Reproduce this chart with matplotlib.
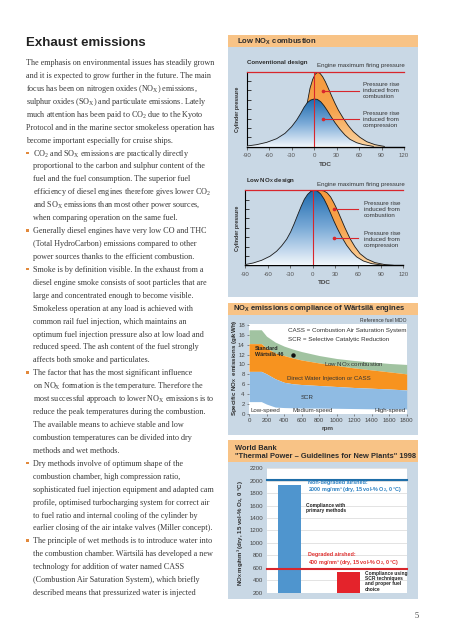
import numpy as np
import matplotlib
matplotlib.use('Agg')
import matplotlib.pyplot as plt
from matplotlib.patches import Rectangle
from matplotlib.colors import LinearSegmentedColormap

W, H = 452, 640
plt.rcParams['font.family'] = ['Liberation Sans', 'DejaVu Sans']
plt.rcParams['axes.unicode_minus'] = False

# ---------------- page text ----------------
title = 'Exhaust emissions'
body_lines = [
    'The emphasis on environmental issues has steadily grown',
    'and it is expected to grow further in the future. The main',
    r'focus has been on nitrogen oxides (NO$_\mathregular{X}$) emissions,',
    r'sulphur oxides (SO$_\mathregular{X}$) and particulate emissions. Lately',
    r'much attention has been paid to CO$_\mathregular{2}$ due to the Kyoto',
    'Protocol and in the marine sector smokeless operation has',
    'become important especially for cruise ships.',
    r'CO$_\mathregular{2}$ and SO$_\mathregular{X}$ emissions are practically directly',
    'proportional to the carbon and sulphur content of the',
    'fuel and the fuel consumption. The superior fuel',
    r'efficiency of diesel engines therefore gives lower CO$_\mathregular{2}$',
    r'and SO$_\mathregular{X}$ emissions than most other power sources,',
    'when comparing operation on the same fuel.',
    'Generally diesel engines have very low CO and THC',
    '(Total HydroCarbon) emissions compared to other',
    'power sources thanks to the efficient combustion.',
    'Smoke is by definition visible. In the exhaust from a',
    'diesel engine smoke consists of soot particles that are',
    'large and concentrated enough to become visible.',
    'Smokeless operation at any load is achieved with',
    'common rail fuel injection, which maintains an',
    'optimum fuel injection pressure also at low load and',
    'reduced speed. The ash content of the fuel strongly',
    'affects both smoke and particulates.',
    'The factor that has the most significant influence',
    r'on NO$_\mathregular{X}$ formation is the temperature. Therefore the',
    r'most successful approach to lower NO$_\mathregular{X}$ emissions is to',
    'reduce the peak temperatures during the combustion.',
    'The available means to achieve stable and low',
    'combustion temperatures can be divided into dry',
    'methods and wet methods.',
    'Dry methods involve of optimum shape of the',
    'combustion chamber, high compression ratio,',
    'sophisticated fuel injection equipment and adapted cam',
    'profile, optimised turbocharging system for correct air',
    'to fuel ratio and internal cooling of the cylinder by',
    'earlier closing of the air intake valves (Miller concept).',
    'The principle of wet methods is to introduce water into',
    'the combustion chamber. Wärtsilä has developed a new',
    'technology for addition of water named CASS',
    '(Combustion Air Saturation System), which briefly',
    'described means that pressurized water is injected',
]
bullet_rows = [7, 13, 16, 24, 31, 37]

# ---------------- cylinder pressure curves (crank angle deg, % of max firing pressure) ----------------
conv_comp_angle = [-90, -76.7, -63.3, -50, -38.9, -30, -23.3, -17.9, -13.5, -9.1, -4.6, -0.1,
                   4.3, 8.8, 13.2, 17.7, 22.1, 27.9, 34.6, 41.2, 47.9, 56.8, 65.7, 79.1]
conv_comp_p = [0.9, 2.7, 5.8, 10.7, 17.8, 26.7, 35.6, 44.4, 52.4, 58.7, 62.2, 63.6,
               63.1, 60, 54.7, 48, 40.9, 32, 23.1, 15.6, 9.8, 5.3, 2.7, 0.4]
conv_fire_angle = [-9.1, -5.5, -1.9, 1.6, 4.8, 7.9, 11.4, 15, 19, 23.4, 27.9, 32.3, 39,
                   45.7, 52.4, 61.3, 70.2, 81.3, 93.8]
conv_fire_p = [58.7, 77.8, 89.8, 96.9, 99.1, 97.8, 93.3, 86.7, 77.8, 67.6, 57.8, 48.9, 37.8,
               28, 20, 12.4, 6.7, 2.7, 0.4]

lown_comp_angle = [-90, -79, -67.9, -56.8, -48, -41.4, -34.7, -29.4, -24.6, -20.2, -15.7,
                   -11.3, -6.9, -2.5, 1.5, 5.9, 10.4, 14.8, 19.2, 23.6, 28, 32.5, 38.2,
                   44.8, 51.5, 58.1, 66.9, 78, 91.3]
lown_comp_p = [0.9, 3.1, 6.7, 12.1, 18.8, 25.9, 34.8, 44.6, 55.8, 67, 78.1, 87.9, 94.6,
               98.7, 100, 99.1, 95.1, 88.4, 79.5, 69.2, 58.9, 49.1, 37.9, 26.8, 17.9,
               11.2, 5.8, 2.2, 0.4]
lown_fire_angle = [1.5, 9.5, 14.8, 19.2, 23.6, 28, 32.5, 36.9, 42.6, 49.3, 55.9, 62.5,
                   71.4, 82.4, 95.7, 106.7]
lown_fire_p = [100, 100, 99.1, 96.4, 91.1, 83, 73.7, 63.4, 50, 35.7, 24.6, 15.6, 8.5,
               3.6, 0.9, 0]

angle_ticks = [-90, -60, -30, 0, 30, 60, 90, 120]
max_firing = 100
tdc = 0

# ---------------- NOx compliance bands (g/kWh vs rpm) ----------------
rpm = [0, 140, 200, 300, 400, 500, 600, 800, 1000, 1200, 1400, 1600, 1800]
low_nox_top = [17.0, 17.0, 15.7, 14.5, 13.7, 13.1, 12.6, 11.8, 11.2, 10.8, 10.5, 10.2, 10.0]
dwi_top = [14.2, 14.2, 13.3, 12.3, 11.8, 11.3, 10.9, 10.3, 9.8, 9.3, 8.9, 8.5, 8.1]
scr_top = [8.6, 8.6, 8.1, 7.1, 6.4, 6.1, 5.95, 5.75, 5.55, 5.35, 5.2, 5.05, 4.85]
scr_bottom = [2.5, 2.5, 2.0, 1.4, 1.3, 1.25, 1.2, 1.2, 1.15, 1.1, 1.05, 1.0, 1.0]
w46_rpm, w46_nox = 500, 12.0

# ---------------- World Bank bars ----------------
bar_names = ['Primary methods', 'SCR']
bar_values = [1925, 540]
non_degraded_limit = 2010
degraded_limit = 580

RED = '#d8262c'
PANEL = '#c9d8e5'
HEAD = '#f8c386'
TXT = '#333333'

fig = plt.figure(figsize=(W / 100, H / 100), dpi=100)
fig.patch.set_facecolor('white')


def box(x0, y0, x1, y1):
    return [x0 / W, 1 - y1 / H, (x1 - x0) / W, (y1 - y0) / H]


def ftext(x, y, s, **kw):
    return fig.text(x / W, 1 - y / H, s, **kw)


def rect(x0, y0, x1, y1, color):
    fig.patches.append(Rectangle((x0 / W, 1 - y1 / H), (x1 - x0) / W, (y1 - y0) / H,
                                 transform=fig.transFigure, facecolor=color,
                                 edgecolor='none', zorder=-5))


# page text
ftext(26, 43, title, fontsize=9.5, fontweight='bold', color='#222222', va='center')
for i, line in enumerate(body_lines):
    base = 65 + 12.93 * i
    indent = 26 if i < 7 else 33
    ftext(indent, base, line, family='Liberation Serif', fontsize=5.9,
          color='#3a3a3a', va='baseline')
    if i in bullet_rows:
        rect(26.4, base - 4.0, 29.0, base - 1.4, '#e2893c')
ftext(415, 616, '5', family='Liberation Serif', fontsize=6, color='#444444', va='center')

# panels
rect(228, 35, 418, 47, HEAD)
rect(228, 47, 418, 297, PANEL)
rect(228, 302.7, 418, 315, HEAD)
rect(228, 315, 418, 435, PANEL)
rect(228, 440, 418, 462, HEAD)
rect(228, 462, 418, 599, PANEL)

ftext(236.7, 41.5, r'Low NO$_\mathregular{X}$ combustion', fontsize=5.5,
      fontweight='bold', color='#2b2b2b', va='center')
ftext(233.3, 309, r'NO$_\mathregular{X}$ emissions compliance of Wärtsilä engines',
      fontsize=5.5, fontweight='bold', color='#2b2b2b', va='center')
ftext(234.7, 448.3, 'World Bank', fontsize=5.4, fontweight='bold', color='#2b2b2b', va='center')
ftext(234.7, 456.9, '"Thermal Power – Guidelines for New Plants" 1998', fontsize=5.4,
      fontweight='bold', color='#2b2b2b', va='center')

blue_cmap = LinearSegmentedColormap.from_list('bl', ['#f1f6fb', '#7aaad7', '#1d6aae'])
orange_cmap = LinearSegmentedColormap.from_list('or', ['#fbd4a2', '#f7a34c', '#f59a3e'])


def gradient_fill(ax, x, y, cmap, z):
    poly = ax.fill_between(x, y, 0, facecolor='none', edgecolor='none')
    grad = np.linspace(0, 1, 256).reshape(-1, 1)
    im = ax.imshow(grad, extent=(min(x), max(x), 0, max(y)), origin='lower',
                   cmap=cmap, aspect='auto', zorder=z)
    im.set_clip_path(poly.get_paths()[0], transform=ax.transData)
    ax.plot(x, y, color='#1a1a1a', lw=0.6, zorder=z + 0.5)


def pressure_chart(bx, label, comp_a, comp_p, fire_a, fire_p, notes, note_x, txt_x,
                   label_y, label_x, eng_y, ylab_y):
    ax = fig.add_axes(box(*bx))
    ax.patch.set_alpha(0)
    gradient_fill(ax, fire_a, fire_p, orange_cmap, 2)
    gradient_fill(ax, comp_a, comp_p, blue_cmap, 3)
    ax.plot([tdc, tdc], [0, max_firing], color=RED, lw=0.8, zorder=5)
    ax.axhline(max_firing, color=RED, lw=0.9, zorder=5, clip_on=False)
    for (ny, ty, txt) in notes:
        ax.plot([note_x[0], note_x[1]], [ny, ny], color=RED, lw=0.8, zorder=6)
        ax.plot(note_x[0], ny, 'o', color=RED, ms=1.6, zorder=6)
        ax.text(txt_x, ty, txt, fontsize=4.5, color=TXT, va='center', ha='left',
                linespacing=1.2)
    ax.set_xlim(-90, 120)
    ax.set_ylim(0, 100)
    ax.set_xticks(angle_ticks)
    ax.set_yticks(np.arange(0, 101, 12.5))
    ax.set_yticklabels([])
    ax.tick_params(axis='x', labelsize=4.4, colors='#555555', length=1.8, width=0.6,
                   pad=2.8, direction='out')
    ax.tick_params(axis='y', length=2.6, width=0.6, direction='in', color='#222222')
    for s in ['top', 'right']:
        ax.spines[s].set_visible(False)
    ax.spines['left'].set_linewidth(0.8)
    ax.spines['bottom'].set_linewidth(1.0)
    ax.set_xlabel('TDC', fontsize=4.6, fontweight='bold', color='#444444', labelpad=2.5)
    ftext(label_x, label_y, label, fontsize=4.4, fontweight='bold', color='#2b2b2b', va='center')
    ftext(bx[2] + 1, eng_y, 'Engine maximum firing pressure', fontsize=4.4,
          color=TXT, va='center', ha='right')
    ftext(238, ylab_y, 'Cylinder pressure', fontsize=3.8, fontweight='bold',
          color='#2b2b2b', rotation=90, va='center', ha='center')
    return ax


pressure_chart((246.7, 71.7, 404, 146.7), 'Conventional design',
               conv_comp_angle, conv_comp_p, conv_fire_angle, conv_fire_p,
               [(74.7, 75.2, 'Pressure rise\ninduced from\ncombustion'),
                (36.5, 36.0, 'Pressure rise\ninduced from\ncompression')],
               (12.3, 59.3), 65.3, 62.7, 246.7, 65.7, 109)

pressure_chart((245, 190.3, 403.3, 265.3), r'Low NO$_\mathregular{X}$ design',
               lown_comp_angle, lown_comp_p, lown_fire_angle, lown_fire_p,
               [(74.7, 74.7, 'Pressure rise\ninduced from\ncombustion'),
                (36.0, 34.7, 'Pressure rise\ninduced from\ncompression')],
               (28.4, 60.3), 67.8, 180.3, 245.7, 184.3, 228)

# ---------------- compliance chart ----------------
ax3 = fig.add_axes(box(249, 324.3, 406.7, 414))
ax3.set_facecolor('white')
ax3.fill_between(rpm, dwi_top, low_nox_top, color='#a1c3a1', lw=0)
ax3.fill_between(rpm, scr_top, dwi_top, color='#f7931f', lw=0)
ax3.fill_between(rpm, scr_bottom, scr_top, color='#8fbbe3', lw=0)
ax3.plot(w46_rpm, w46_nox, 'o', color='#111111', ms=2.2)
ax3.text(65, 12.6, 'Standard\nWärtsilä 46', fontsize=3.9, fontweight='bold',
         color='#222222', va='center', linespacing=1.3)
ax3.text(1200, 9.9, r'Low NO$_\mathregular{X}$ combustion', fontsize=4.4, color=TXT,
         ha='center', va='center')
ax3.text(912, 7.2, 'Direct Water Injection or CASS', fontsize=4.4, color=TXT,
         ha='center', va='center')
ax3.text(658, 3.4, 'SCR', fontsize=4.4, color=TXT, ha='center', va='center')
ax3.text(15, 0.75, 'Low-speed', fontsize=4.4, color=TXT, ha='left', va='center')
ax3.text(730, 0.75, 'Medium-speed', fontsize=4.4, color=TXT, ha='center', va='center')
ax3.text(1790, 0.75, 'High-speed', fontsize=4.4, color=TXT, ha='right', va='center')
ax3.text(450, 16.9, 'CASS = Combustion Air Saturation System', fontsize=4.5, color=TXT,
         va='center')
ax3.text(450, 15.0, 'SCR = Selective Catalytic Reduction', fontsize=4.5, color=TXT,
         va='center')
ax3.set_xlim(0, 1800)
ax3.set_ylim(0, 18.1)
ax3.set_xticks(range(0, 1801, 200))
ax3.set_yticks(range(0, 19, 2))
ax3.tick_params(labelsize=4.4, colors='#444444', length=1.5, width=0.4, pad=1.5)
for s in ax3.spines.values():
    s.set_visible(False)
ax3.set_xlabel('rpm', fontsize=4.6, fontweight='bold', color='#444444', labelpad=2)
ftext(407, 320, 'Reference fuel MDO', fontsize=3.6, color=TXT, ha='right', va='center')
ftext(235, 368, r'Specific NO$_\mathregular{X}$  emissions (g/kWh)', fontsize=4.4,
      fontweight='bold', color='#2b2b2b', rotation=90, ha='center', va='center')

# ---------------- World Bank bar chart ----------------
ax4 = fig.add_axes(box(266.7, 468.3, 406.7, 593.3))
ax4.set_facecolor('white')
bar_x = np.arange(len(bar_names))
ax4.bar(bar_x, bar_values, width=0.38, color=['#4f95ce', '#e4232b'], zorder=2)
ax4.axhline(non_degraded_limit, color='#1f6ea8', lw=1.5, zorder=3, clip_on=False)
ax4.axhline(degraded_limit, color=RED, lw=1.5, zorder=3, clip_on=False)
ax4.set_xlim(-0.385, 1.98)
ax4.set_ylim(190, 2200)
ax4.set_yticks(range(200, 2201, 200))
ax4.set_xticks([])
ax4.grid(axis='y', color='#d8d8d8', lw=0.5)
ax4.set_axisbelow(True)
ax4.tick_params(axis='y', labelsize=4.4, colors='#444444', length=0, pad=2.5)
for s in ax4.spines.values():
    s.set_visible(False)
ax4.text(0.32, 1900, 'Non-degraded airshed:\n2000 mg/nm³ (dry, 15 vol-% O$_\\mathregular{2}$, 0 °C)',
         fontsize=3.9, fontweight='bold', color='#2b80c2', va='center', linespacing=1.15)
ax4.text(0.28, 1560, 'Compliance with\nprimary methods', fontsize=3.5, fontweight='bold',
         color='#222222', va='center', linespacing=1.15)
ax4.text(0.32, 730, 'Degraded airshed:\n400 mg/nm³ (dry, 15 vol-% O$_\\mathregular{2}$, 0 °C)',
         fontsize=3.9, fontweight='bold', color='#e0302f', va='center', linespacing=1.15)
ax4.text(1.275, 385, 'Compliance using\nSCR techniques\nand proper fuel\nchoice', fontsize=3.5,
         fontweight='bold', color='#222222', va='center', linespacing=1.1)
ftext(240, 533, r'NO$_\mathregular{X}$ mg/nm³ (dry, 15 vol-% O$_\mathregular{2}$, 0 °C)',
      fontsize=4.4, fontweight='bold', color='#2b2b2b', rotation=90, ha='center', va='center')

fig.savefig('out.png', dpi=100)
